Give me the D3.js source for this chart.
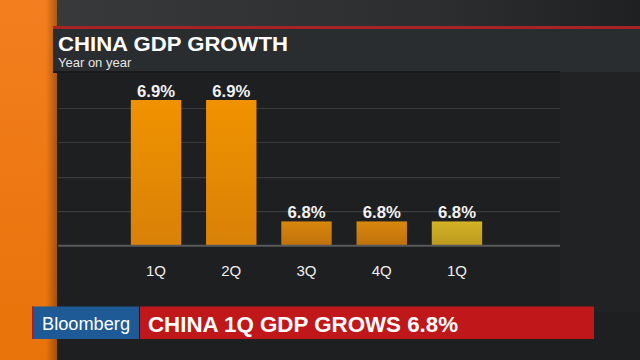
<!DOCTYPE html>
<html><head><meta charset="utf-8">
<script src="https://cdn.jsdelivr.net/npm/d3@7"></script>
<style>html,body{margin:0;padding:0;background:#1e1f21;overflow:hidden}svg{display:block}</style>
</head><body>
<script>
const categories = ["1Q", "2Q", "3Q", "4Q", "1Q"];
const values = [6.9, 6.9, 6.8, 6.8, 6.8];
const valueLabels = ["6.9%", "6.9%", "6.8%", "6.8%", "6.8%"];
const barColors = [["#F09200", "#D98108"], ["#F09200", "#D98108"], ["#D9870C", "#BF710C"], ["#D9870C", "#BF710C"], ["#D3B226", "#BB9A1E"]];
const gridValues = [6.808, 6.836, 6.865, 6.893];
const title = "CHINA GDP GROWTH";
const subtitle = "Year on year";
const brand = "Bloomberg";
const headline = "CHINA 1Q GDP GROWS 6.8%";

const W = 640, H = 360;
const svg = d3.select("body").append("svg").attr("width", W).attr("height", H);
const defs = svg.append("defs");

const og = defs.append("linearGradient").attr("id", "orange").attr("x1", 0).attr("y1", 0).attr("x2", 0).attr("y2", 1);
og.append("stop").attr("offset", 0).attr("stop-color", "#F27E1E");
og.append("stop").attr("offset", 1).attr("stop-color", "#E8730A");
const os = defs.append("linearGradient").attr("id", "oshadow").attr("x1", 0).attr("y1", 0).attr("x2", 1).attr("y2", 0);
os.append("stop").attr("offset", 0).attr("stop-color", "#000").attr("stop-opacity", 0);
os.append("stop").attr("offset", 1).attr("stop-color", "#000").attr("stop-opacity", 0.3);
const tg = defs.append("linearGradient").attr("id", "topbg").attr("x1", 0).attr("y1", 0).attr("x2", 1).attr("y2", 0);
tg.append("stop").attr("offset", 0).attr("stop-color", "#3a3b3d");
tg.append("stop").attr("offset", 0.7).attr("stop-color", "#2c2d2f");
tg.append("stop").attr("offset", 1).attr("stop-color", "#1f2022");

barColors.forEach((c, i) => {
  const g = defs.append("linearGradient").attr("id", "bar" + i).attr("x1", 0).attr("y1", 0).attr("x2", 0).attr("y2", 1);
  g.append("stop").attr("offset", 0).attr("stop-color", c[0]);
  g.append("stop").attr("offset", 1).attr("stop-color", c[1]);
});

svg.append("rect").attr("x", 0).attr("y", 0).attr("width", W).attr("height", H).attr("fill", "#1e1f21");
svg.append("rect").attr("x", 560).attr("y", 72).attr("width", 80).attr("height", 240).attr("fill", "#212224");
svg.append("rect").attr("x", 0).attr("y", 0).attr("width", W).attr("height", 27).attr("fill", "url(#topbg)");
svg.append("rect").attr("x", 0).attr("y", 0).attr("width", 57).attr("height", H).attr("fill", "url(#orange)");
svg.append("rect").attr("x", 46).attr("y", 0).attr("width", 11).attr("height", H).attr("fill", "url(#oshadow)");
svg.append("rect").attr("x", 53).attr("y", 26).attr("width", W - 53).attr("height", 3).attr("fill", "#A82424");
svg.append("rect").attr("x", 53).attr("y", 29).attr("width", W - 53).attr("height", 43).attr("fill", "#2a2d30");
svg.append("rect").attr("x", 53).attr("y", 71).attr("width", 507).attr("height", 2).attr("fill", "#18191a");

svg.append("text").attr("x", 58).attr("y", 50.5).text(title)
  .attr("fill", "#fff").attr("font-family", "Liberation Sans, Arial, sans-serif").attr("font-weight", "bold")
  .attr("font-size", 20).attr("textLength", 230).attr("lengthAdjust", "spacingAndGlyphs");
svg.append("text").attr("x", 58).attr("y", 67).text(subtitle)
  .attr("fill", "#e6e6e6").attr("font-family", "Liberation Sans, Arial, sans-serif").attr("font-size", 13);

const x = d3.scaleBand().domain(d3.range(categories.length)).range([106, 507]).paddingInner(0.33).paddingOuter(0.33);
const y = d3.scaleLinear().domain([6.78, 6.9]).range([245.7, 100]);

svg.append("g").selectAll("line").data(gridValues).join("line")
  .attr("x1", 58).attr("x2", 560).attr("y1", d => y(d)).attr("y2", d => y(d))
  .attr("stroke", "#3a3b3d").attr("stroke-width", 1.2);

svg.append("g").selectAll("rect").data(values).join("rect")
  .attr("x", (d, i) => x(i)).attr("width", x.bandwidth())
  .attr("y", d => y(d)).attr("height", d => y(6.78) - y(d))
  .attr("fill", (d, i) => "url(#bar" + i + ")");

svg.append("line").attr("x1", 58).attr("x2", 560).attr("y1", y(6.78)).attr("y2", y(6.78))
  .attr("stroke", "#58595b").attr("stroke-width", 2);

svg.append("g").selectAll("text").data(values).join("text")
  .attr("x", (d, i) => x(i) + x.bandwidth() / 2).attr("y", d => y(d) - 3.5)
  .attr("text-anchor", "middle").text((d, i) => valueLabels[i])
  .attr("fill", "#f2f2f2").attr("font-family", "Liberation Sans, Arial, sans-serif").attr("font-weight", "bold").attr("font-size", 16)
  .attr("textLength", 38).attr("lengthAdjust", "spacingAndGlyphs");

svg.append("g").selectAll("text").data(categories).join("text")
  .attr("x", (d, i) => x(i) + x.bandwidth() / 2).attr("y", 275.5)
  .attr("text-anchor", "middle").text(d => d)
  .attr("fill", "#eeeeee").attr("font-family", "Liberation Sans, Arial, sans-serif").attr("font-size", 15);

svg.append("rect").attr("x", 32).attr("y", 306.5).attr("width", 107).attr("height", 32.5).attr("fill", "#1D5A96");
svg.append("rect").attr("x", 32).attr("y", 306.5).attr("width", 2).attr("height", 32.5).attr("fill", "#B21E22");
svg.append("rect").attr("x", 140).attr("y", 306.5).attr("width", 454).attr("height", 32.5).attr("fill", "#C0171B");
svg.append("text").attr("x", 42).attr("y", 330).text(brand)
  .attr("fill", "#fff").attr("font-family", "Liberation Sans, Arial, sans-serif").attr("font-size", 18)
  .attr("textLength", 88).attr("lengthAdjust", "spacingAndGlyphs");
svg.append("text").attr("x", 148).attr("y", 332).text(headline)
  .attr("fill", "#fff").attr("font-family", "Liberation Sans, Arial, sans-serif").attr("font-weight", "bold").attr("font-size", 21.5)
  .attr("textLength", 310).attr("lengthAdjust", "spacingAndGlyphs");
</script>
</body></html>
